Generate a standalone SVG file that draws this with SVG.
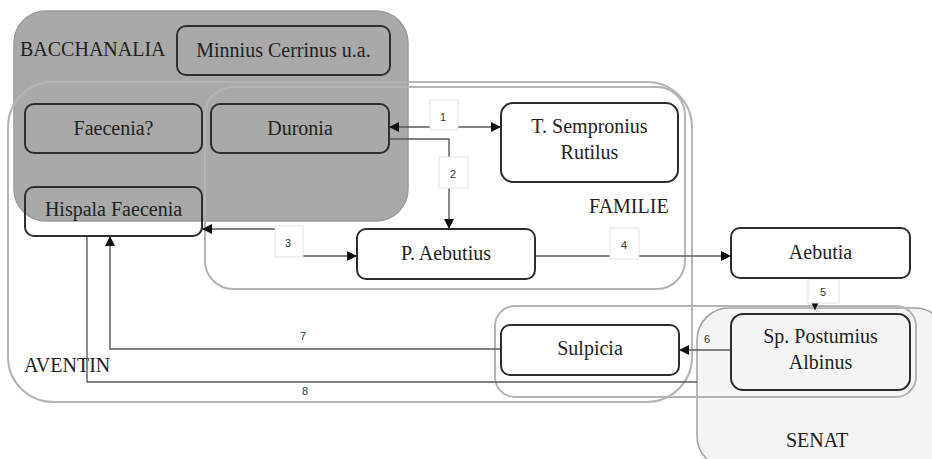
<svg xmlns="http://www.w3.org/2000/svg" width="932" height="459" viewBox="0 0 932 459">
<style>
  .node rect { fill: none; stroke: #2e2e2e; stroke-width: 2; }
  .t { font-family: "Liberation Serif", "Times New Roman", serif; font-size: 20px; fill: #222; }
  .c { text-anchor: middle; }
  .grp { fill: none; stroke: #b4b4b4; stroke-width: 2; }
  .conn { fill: none; stroke: #5a5a5a; stroke-width: 1.4; }
  .lbl { font-family: "Liberation Sans", Arial, sans-serif; font-size: 11px; fill: #333; text-anchor: middle; }
  .lbox { fill: #fff; stroke: #e2e2e2; stroke-width: 1; }
</style>
<defs>
  <marker id="arr" viewBox="0 0 10 10" refX="10" refY="5" markerWidth="10" markerHeight="10" markerUnits="userSpaceOnUse" orient="auto-start-reverse">
    <path d="M0,0 L10,5 L0,10 z" fill="#111"/>
  </marker>
</defs>
<rect width="932" height="459" fill="#fff"/>

<!-- regions -->
<g id="bacchanalia">
  <rect x="14" y="11" width="394" height="210" rx="32" fill="#a9a9a9" stroke="#9c9c9c" stroke-width="1.5"/>
  <text class="t" x="20" y="56">BACCHANALIA</text>
</g>
<g id="senat">
  <rect x="697" y="308" width="250" height="160" rx="32" fill="#f5f5f5" stroke="#a0a0a0" stroke-width="1.5"/>
  <text class="t c" x="817" y="447">SENAT</text>
</g>
<g id="aventin">
  <rect class="grp" x="8" y="82" width="684" height="320" rx="45"/>
  <text class="t" x="24" y="372">AVENTIN</text>
</g>
<g id="familie">
  <rect class="grp" x="205" y="87" width="480" height="202" rx="28"/>
  <text class="t" x="589" y="213">FAMILIE</text>
</g>
<g id="postumius-group">
  <rect class="grp" x="495" y="306" width="421" height="91" rx="20"/>
</g>

<!-- connectors -->
<g id="connectors">
  <path class="conn" d="M389,127 H501" marker-start="url(#arr)" marker-end="url(#arr)"/>
  <path class="conn" d="M389,139 H449 V229" marker-end="url(#arr)"/>
  <path class="conn" d="M202,229 H280 V256 H357" marker-start="url(#arr)" marker-end="url(#arr)"/>
  <path class="conn" d="M535,256 H731" marker-end="url(#arr)"/>
  <path class="conn" d="M815,278 V310" marker-end="url(#arr)"/>
  <path class="conn" d="M731,350 H679" marker-end="url(#arr)"/>
  <path class="conn" d="M501,349 H110 V236" marker-end="url(#arr)"/>
  <path class="conn" d="M697,382 H87 V236"/>
  <rect class="lbox" x="430" y="100" width="28" height="30"/>
  <text class="lbl" x="443" y="121">1</text>
  <rect class="lbox" x="439" y="157" width="29" height="31"/>
  <text class="lbl" x="453" y="178">2</text>
  <rect class="lbox" x="275" y="226" width="28" height="31"/>
  <text class="lbl" x="288" y="247">3</text>
  <rect class="lbox" x="610" y="228" width="29" height="31"/>
  <text class="lbl" x="624" y="249">4</text>
  <rect class="lbox" x="808" y="279" width="31" height="24"/>
  <text class="lbl" x="823" y="296">5</text>
  <text class="lbl" x="707" y="343">6</text>
  <text class="lbl" x="303" y="340">7</text>
  <text class="lbl" x="305" y="395">8</text>
</g>

<!-- nodes -->
<g id="minnius" class="node">
  <rect x="177" y="26" width="213" height="49" rx="9"/>
  <text class="t c" x="283.5" y="57">Minnius Cerrinus u.a.</text>
</g>
<g id="faecenia" class="node">
  <rect x="25" y="104" width="177" height="49" rx="9"/>
  <text class="t c" x="113.5" y="135">Faecenia?</text>
</g>
<g id="duronia" class="node">
  <rect x="211" y="104" width="178" height="49" rx="9"/>
  <text class="t c" x="300" y="135">Duronia</text>
</g>
<g id="hispala" class="node">
  <rect x="25" y="187" width="177" height="49" rx="9"/>
  <text class="t c" x="113.5" y="216">Hispala Faecenia</text>
</g>
<g id="sempronius" class="node">
  <rect x="501" y="103" width="177" height="79" rx="12"/>
  <text class="t c" x="589.5" y="133">T. Sempronius</text>
  <text class="t c" x="589.5" y="159">Rutilus</text>
</g>
<g id="aebutius" class="node">
  <rect x="357" y="229" width="178" height="50" rx="9"/>
  <text class="t c" x="446" y="260">P. Aebutius</text>
</g>
<g id="aebutia" class="node">
  <rect x="731" y="228" width="179" height="50" rx="9"/>
  <text class="t c" x="820.5" y="259">Aebutia</text>
</g>
<g id="sulpicia" class="node">
  <rect x="501" y="325" width="178" height="50" rx="9"/>
  <text class="t c" x="590" y="355">Sulpicia</text>
</g>
<g id="postumius" class="node">
  <rect x="731" y="314" width="179" height="76" rx="12"/>
  <text class="t c" x="820.5" y="343">Sp. Postumius</text>
  <text class="t c" x="820.5" y="369">Albinus</text>
</g>
</svg>
